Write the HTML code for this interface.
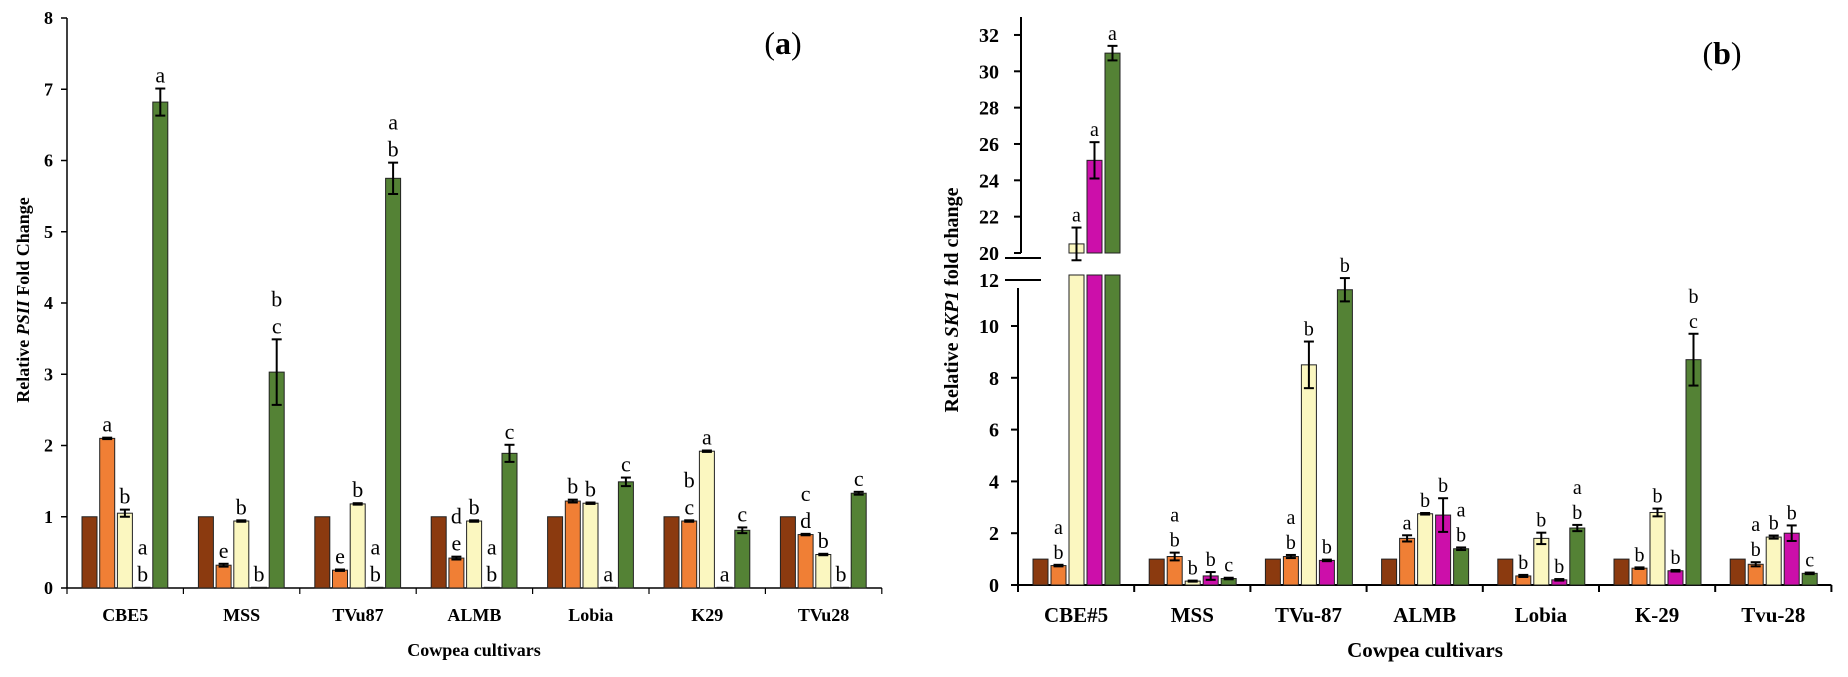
<!DOCTYPE html>
<html><head><meta charset="utf-8">
<style>
html,body{margin:0;padding:0;background:#fff;}
svg{display:block;font-family:"Liberation Serif",serif;}
</style></head>
<body>
<svg id="chart" width="1848" height="677" viewBox="0 0 1848 677" xmlns="http://www.w3.org/2000/svg">
  <g id="pa"></g>
  <g id="pb"></g>
</svg>
<script>
const catsA = ["CBE5","MSS","TVu87","ALMB","Lobia","K29","TVu28"];
const catsB = ["CBE#5","MSS","TVu-87","ALMB","Lobia","K-29","Tvu-28"];
const seriesColors = ["#8B3A0F","#F07F35","#FBF7C0","#CC0FAA","#548235"];
// Panel a values per series (brown, orange, yellow, magenta, green)
const aS1 = [1,1,1,1,1,1,1];
const aS2 = [2.1,0.32,0.25,0.42,1.22,0.94,0.75];
const aS3 = [1.05,0.94,1.18,0.94,1.19,1.92,0.47];
const aS4 = [0.01,0.01,0.01,0.01,0.01,0.01,0.01];
const aS5 = [6.82,3.03,5.75,1.89,1.49,0.81,1.33];
const aE2 = [0.01,0.02,0.01,0.02,0.02,0.01,0.01];
const aE3 = [0.05,0.01,0.01,0.01,0.01,0.01,0.01];
const aE5 = [0.19,0.46,0.22,0.12,0.06,0.04,0.02];
const aL2 = ["a","e","e","de","b","bc","cd"];
const aL3 = ["b","b","b","b","b","a","b"];
const aL4 = ["ab","b","ab","ab","a","a","b"];
const aL5 = ["a","bc","ab","c","c","c","c"];
const aTicks = [0,1,2,3,4,5,6,7,8];
// Panel b values
const bS1 = [1,1,1,1,1,1,1];
const bS2 = [0.75,1.1,1.1,1.8,0.35,0.65,0.8];
const bS3 = [20.5,0.15,8.5,2.75,1.8,2.8,1.85];
const bS4 = [25.1,0.35,0.95,2.7,0.2,0.55,2.0];
const bS5 = [31.0,0.25,11.4,1.4,2.2,8.7,0.45];
const bE2 = [0.03,0.15,0.06,0.12,0.04,0.03,0.08];
const bE3 = [0.9,0.02,0.9,0.03,0.22,0.15,0.06];
const bE4 = [1.0,0.15,0.03,0.65,0.03,0.03,0.3];
const bE5 = [0.4,0.03,0.45,0.05,0.12,1.0,0.03];
const bL2 = ["ab","ab","ab","a","b","b","ab"];
const bL3 = ["a","b","b","b","b","b","b"];
const bL4 = ["a","b","b","b","b","b","b"];
const bL5 = ["a","c","b","ab","ab","bc","c"];
const bTicksLow = [0,2,4,6,8,10,12];
const bTicksHigh = [20,22,24,26,28,30,32];

const NS = "http://www.w3.org/2000/svg";
function mk(parent, tag, attrs, text){
  const el = document.createElementNS(NS, tag);
  for (const k in attrs) el.setAttribute(k, attrs[k]);
  if (text !== undefined) el.textContent = text;
  parent.appendChild(el);
  return el;
}

// ---------- Panel A ----------
const pa = document.getElementById("pa");
const aX0 = 67, aY0 = 588, aGW = 116.4, aUnit = 71.25;
function ya(v){ return aY0 - v*aUnit; }
function xa(g, s){ return aX0 + g*aGW + 15 + s*17.7; }
const BW = 15;

let ln = mk(pa,"line",{x1:aX0,y1:18,x2:aX0,y2:aY0,stroke:"#000","stroke-width":1.5});


ln = mk(pa,"line",{x1:aX0,y1:aY0,x2:aX0+7*aGW,y2:aY0,stroke:"#000","stroke-width":1.5});


aTicks.forEach(t=>{
  const y = ya(t);
  mk(pa,"line",{x1:aX0-6,y1:y,x2:aX0,y2:y,stroke:"#000","stroke-width":1.5});
  const tx = mk(pa,"text",{x:aX0-14,y:y+6,"text-anchor":"end","font-size":18,"font-weight":"bold"},String(t));
  
  
});
for(let g=0; g<=7; g++){
  const x = aX0 + g*aGW;
  mk(pa,"line",{x1:x,y1:aY0,x2:x,y2:aY0+6,stroke:"#000","stroke-width":1.2});
}
const aSeries = [aS1,aS2,aS3,aS4,aS5];
const aErrs = [null,aE2,aE3,null,aE5];
const aLets = [null,aL2,aL3,aL4,aL5];
function drawErr(parent, cx, yTop, yBot){
  mk(parent,"line",{x1:cx,y1:yTop,x2:cx,y2:yBot,stroke:"#000","stroke-width":2});
  mk(parent,"line",{x1:cx-5,y1:yTop,x2:cx+5,y2:yTop,stroke:"#000","stroke-width":2});
  mk(parent,"line",{x1:cx-5,y1:yBot,x2:cx+5,y2:yBot,stroke:"#000","stroke-width":2});
}
catsA.forEach((c,g)=>{
  aSeries.forEach((arr,s)=>{
    const v = arr[g], x = xa(g,s), y = ya(v);
    const r = mk(pa,"rect",{x:x,y:y,width:BW,height:Math.max(1,aY0-y),fill:seriesColors[s],stroke:"#222","stroke-width":1});
    
    
    let top = y;
    if (aErrs[s]) { const e = aErrs[s][g]; drawErr(pa, x+BW/2, ya(v+e), ya(v-e)); top = ya(v+e); }
    if (aLets[s]) {
      const L = aLets[s][g];
      for (let i=0;i<L.length;i++){
        const ty = top - 6 - (L.length-1-i)*27;
        const t = mk(pa,"text",{x:x+BW/2,y:ty,"text-anchor":"middle","font-size":22},L[i]);
        
        
      }
    }
  });
  const lab = mk(pa,"text",{x:aX0+g*aGW+aGW/2,y:621,"text-anchor":"middle","font-size":18,"font-weight":"bold"},c);
  
  
});
let t = mk(pa,"text",{x:474,y:656,"text-anchor":"middle","font-size":18,"font-weight":"bold"},"Cowpea cultivars");


t = mk(pa,"text",{x:0,y:0,"text-anchor":"middle","font-size":18,"font-weight":"bold",transform:"translate(29,300) rotate(-90)"});


mk(t,"tspan",{},"Relative ");
mk(t,"tspan",{"font-style":"italic"},"PSII");
mk(t,"tspan",{}," Fold Change");
t = mk(pa,"text",{x:783,y:54,"text-anchor":"middle","font-size":32},"(");
t.textContent = "";
mk(t,"tspan",{},"(");
mk(t,"tspan",{"font-weight":"bold"},"a");
mk(t,"tspan",{},")");



// ---------- Panel B ----------
const pb = document.getElementById("pb");
const bX0 = 1018, bY0 = 585, bGW = 116.2, bUnit = 25.9, bBreakY = 253, bUnitHi = 18.17;
function yb(v){ return v <= 12 ? bY0 - v*bUnit : bBreakY - (v-20)*bUnitHi; }
function xb(g, s){ return bX0 + g*bGW + 15 + s*18; }

ln = mk(pb,"line",{x1:bX0+3,y1:17,x2:bX0+3,y2:bBreakY,stroke:"#000","stroke-width":2});


ln = mk(pb,"line",{x1:bX0,y1:288,x2:bX0,y2:bY0,stroke:"#000","stroke-width":2});


ln = mk(pb,"line",{x1:1005,y1:258,x2:1041,y2:258,stroke:"#000","stroke-width":2});


ln = mk(pb,"line",{x1:1005,y1:280,x2:1041,y2:280,stroke:"#000","stroke-width":2});


ln = mk(pb,"line",{x1:bX0,y1:bY0,x2:bX0+7*bGW,y2:bY0,stroke:"#000","stroke-width":2});


bTicksLow.forEach(v=>{
  const y = v===12 ? 280 : yb(v);
  if (v!==12) mk(pb,"line",{x1:bX0-7,y1:y,x2:bX0,y2:y,stroke:"#000","stroke-width":2});
  const tx = mk(pb,"text",{x:999,y:y+7,"text-anchor":"end","font-size":20,"font-weight":"bold"},String(v));
  
  
});
bTicksHigh.forEach(v=>{
  const y = yb(v);
  mk(pb,"line",{x1:bX0-4,y1:y,x2:bX0+3,y2:y,stroke:"#000","stroke-width":2});
  const tx = mk(pb,"text",{x:999,y:y+7,"text-anchor":"end","font-size":20,"font-weight":"bold"},String(v));
  
  
});
for(let g=0; g<=7; g++){
  const x = bX0 + g*bGW;
  mk(pb,"line",{x1:x,y1:bY0,x2:x,y2:bY0+7,stroke:"#000","stroke-width":2});
}
const bSeries = [bS1,bS2,bS3,bS4,bS5];
const bErrs = [null,bE2,bE3,bE4,bE5];
const bLets = [null,bL2,bL3,bL4,bL5];
catsB.forEach((c,g)=>{
  bSeries.forEach((arr,s)=>{
    const v = arr[g], e = bErrs[s] ? bErrs[s][g] : 0, x = xb(g,s);
    let top;
    if (v > 12) {
      const r1 = mk(pb,"rect",{x:x,y:275,width:BW,height:bY0-275,fill:seriesColors[s],stroke:"#222","stroke-width":1});
      
      
      const y = yb(v);
      const r2 = mk(pb,"rect",{x:x,y:y,width:BW,height:bBreakY-y,fill:seriesColors[s],stroke:"#222","stroke-width":1});
      
      
      top = y;
    } else {
      const y = yb(v);
      const r = mk(pb,"rect",{x:x,y:y,width:BW,height:Math.max(1,bY0-y),fill:seriesColors[s],stroke:"#222","stroke-width":1});
      
      
      top = y;
    }
    if (bErrs[s]) { drawErr(pb, x+BW/2, yb(v+e), yb(v-e)); top = yb(v+e); }
    if (bLets[s]) {
      const L = bLets[s][g];
      for (let i=0;i<L.length;i++){
        const ty = top - 6 - (L.length-1-i)*25;
        const tt = mk(pb,"text",{x:x+BW/2,y:ty,"text-anchor":"middle","font-size":20},L[i]);
        
        
      }
    }
  });
  const lab = mk(pb,"text",{x:bX0+g*bGW+bGW/2,y:622,"text-anchor":"middle","font-size":21,"font-weight":"bold"},c);
  
  
});
t = mk(pb,"text",{x:1425,y:657,"text-anchor":"middle","font-size":21,"font-weight":"bold"},"Cowpea cultivars");


t = mk(pb,"text",{x:0,y:0,"text-anchor":"middle","font-size":20,"font-weight":"bold",transform:"translate(958,300) rotate(-90)"});


mk(t,"tspan",{},"Relative ");
mk(t,"tspan",{"font-style":"italic"},"SKP1");
mk(t,"tspan",{}," fold change");
t = mk(pb,"text",{x:1722,y:64,"text-anchor":"middle","font-size":32});
mk(t,"tspan",{},"(");
mk(t,"tspan",{"font-weight":"bold"},"b");
mk(t,"tspan",{},")");


</script>
</body></html>
